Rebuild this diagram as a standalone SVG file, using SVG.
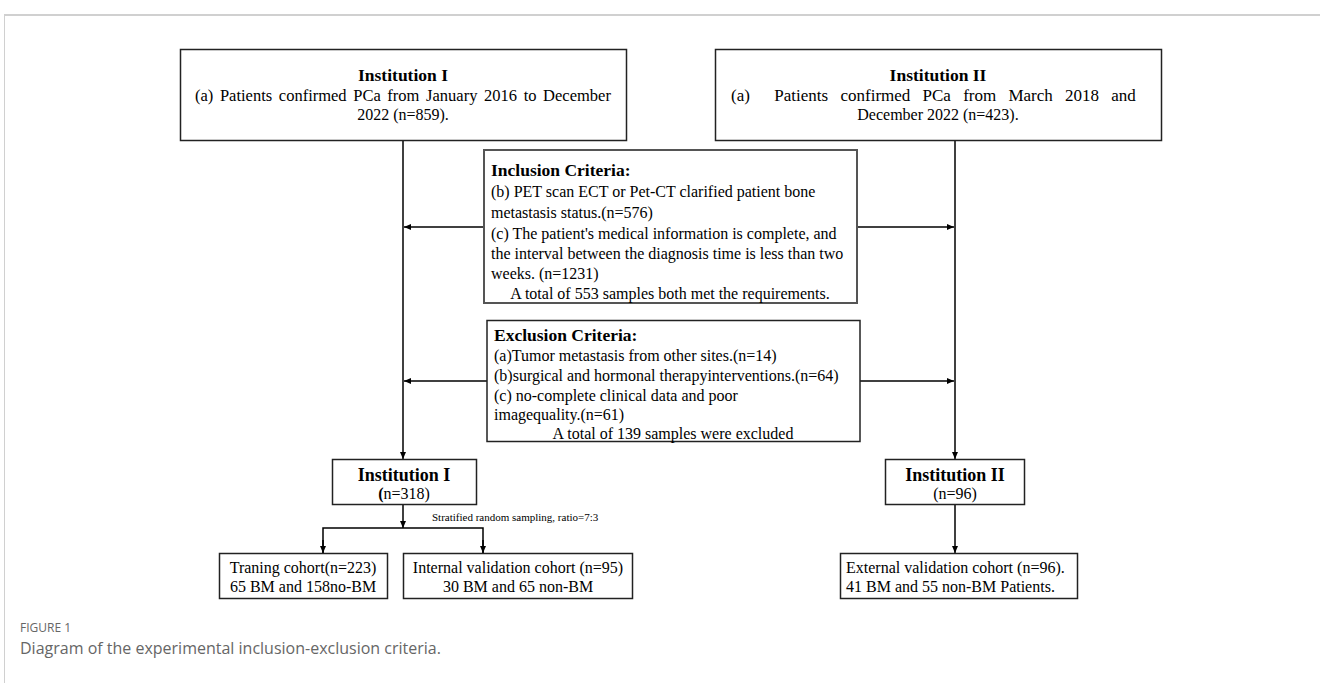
<svg xmlns="http://www.w3.org/2000/svg" width="1320" height="683" viewBox="0 0 1320 683">
<style>
.box{fill:#fff;stroke:#222;stroke-width:1.5}
.box2{fill:#fff;stroke:#555;stroke-width:2}
.t{font-family:"Liberation Serif","Times New Roman",serif;font-size:16px;fill:#000}
.b{font-family:"Liberation Serif","Times New Roman",serif;font-size:17.5px;font-weight:bold;fill:#000}
.c{text-anchor:middle}
.ln{stroke:#000;stroke-width:1.5;fill:none}
.cap1{font-family:"Open Sans","Noto Sans",sans-serif;font-size:12px;fill:#666}
.cap2{font-family:"Open Sans","Noto Sans",sans-serif;font-size:16px;fill:#666}
</style>
<defs>
<marker id="ah" markerUnits="userSpaceOnUse" markerWidth="8" markerHeight="8" refX="7" refY="4" orient="auto">
<path d="M0,1 L7,4 L0,7 z" fill="#000"/>
</marker>
</defs>
<rect width="1320" height="683" fill="#fff"/>
<g id="frame">
<line x1="4" y1="15" x2="1320" y2="15" stroke="#d0d0d0" stroke-width="2"/>
<line x1="4.5" y1="15" x2="4.5" y2="683" stroke="#d0d0d0" stroke-width="1"/>
</g>
<g id="connectors">
<line class="ln" x1="403" y1="141" x2="403" y2="459" marker-end="url(#ah)"/>
<line class="ln" x1="955" y1="141" x2="955" y2="459" marker-end="url(#ah)"/>
<line class="ln" x1="484" y1="227" x2="404" y2="227" marker-end="url(#ah)"/>
<line class="ln" x1="857" y1="227" x2="954" y2="227" marker-end="url(#ah)"/>
<line class="ln" x1="487" y1="381" x2="404" y2="381" marker-end="url(#ah)"/>
<line class="ln" x1="860" y1="381" x2="954" y2="381" marker-end="url(#ah)"/>
<line class="ln" x1="403" y1="505" x2="403" y2="528" marker-end="url(#ah)"/>
<polyline class="ln" points="323,553 323,528 483,528 483,553"/>
<line class="ln" x1="323" y1="540" x2="323" y2="553" marker-end="url(#ah)"/>
<line class="ln" x1="483" y1="540" x2="483" y2="553" marker-end="url(#ah)"/>
<line class="ln" x1="955" y1="505" x2="955" y2="553" marker-end="url(#ah)"/>
</g>
<g id="inst1-top">
<rect class="box" x="180.5" y="49.5" width="446" height="91"/>
<text class="b c" x="403" y="81">Institution I</text>
<text class="t" x="195" y="101" style="font-size:16.5px;word-spacing:2.5px">(a) Patients confirmed PCa from January 2016 to December</text>
<text class="t c" x="403" y="120">2022 (n=859).</text>
</g>
<g id="inst2-top">
<rect class="box" x="715.5" y="49.5" width="446" height="91"/>
<text class="b c" x="938" y="81">Institution II</text>
<text class="t" x="731" y="101" style="font-size:17px;word-spacing:8px" xml:space="preserve">(a)  Patients confirmed PCa from March 2018 and</text>
<text class="t c" x="938" y="120">December 2022 (n=423).</text>
</g>
<g id="inclusion">
<rect class="box2" x="484" y="150" width="373" height="153"/>
<text class="b" x="491" y="176">Inclusion Criteria:</text>
<text class="t" x="491" y="197">(b) PET scan ECT or Pet-CT clarified patient bone</text>
<text class="t" x="491" y="218">metastasis status.(n=576)</text>
<text class="t" x="491" y="239">(c) The patient's medical information is complete, and</text>
<text class="t" x="491" y="259">the interval between the diagnosis time is less than two</text>
<text class="t" x="491" y="279">weeks. (n=1231)</text>
<text class="t c" x="670" y="299">A total of 553 samples both met the requirements.</text>
</g>
<g id="exclusion">
<rect class="box" x="487" y="320.5" width="373" height="121"/>
<text class="b" x="494" y="341">Exclusion Criteria:</text>
<text class="t" x="494" y="361">(a)Tumor metastasis from other sites.(n=14)</text>
<text class="t" x="494" y="381">(b)surgical and hormonal therapyinterventions.(n=64)</text>
<text class="t" x="494" y="401">(c) no-complete clinical data and poor</text>
<text class="t" x="494" y="420">imagequality.(n=61)</text>
<text class="t c" x="673" y="439">A total of 139 samples were excluded</text>
</g>
<g id="inst1-bottom">
<rect class="box" x="332.5" y="459.5" width="144" height="45"/>
<text class="b c" x="404" y="481" style="font-size:18px">Institution I</text>
<text class="t c" x="404" y="499"><tspan font-weight="bold">(</tspan>n=318)</text>
</g>
<g id="inst2-bottom">
<rect class="box" x="885.5" y="459.5" width="139" height="45"/>
<text class="b c" x="955" y="481" style="font-size:18px">Institution II</text>
<text class="t c" x="955" y="499">(n=96)</text>
</g>
<text class="t" x="432" y="521" style="font-size:11px">Stratified random sampling, ratio=7:3</text>
<g id="training">
<rect class="box" x="219.5" y="553.5" width="168" height="45"/>
<text class="t c" x="303" y="573">Traning cohort(n=223)</text>
<text class="t c" x="303" y="592">65 BM and 158no-BM</text>
</g>
<g id="internal">
<rect class="box" x="403.5" y="553.5" width="229" height="45"/>
<text class="t c" x="518" y="573">Internal validation cohort (n=95)</text>
<text class="t c" x="518" y="592">30 BM and 65 non-BM</text>
</g>
<g id="external">
<rect class="box" x="840.5" y="553.5" width="237" height="45"/>
<text class="t" x="846" y="573">External validation cohort (n=96).</text>
<text class="t" x="846" y="592">41 BM and 55 non-BM Patients.</text>
</g>
<g id="caption">
<text class="cap1" x="20" y="632">FIGURE 1</text>
<text class="cap2" x="20" y="654">Diagram of the experimental inclusion-exclusion criteria.</text>
</g>
</svg>
